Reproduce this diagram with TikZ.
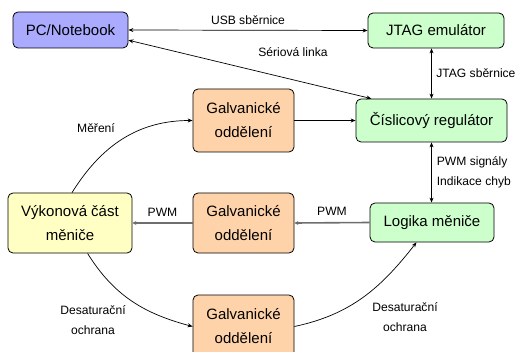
\documentclass[tikz,border=0pt]{standalone}
\usepackage{fontspec}
\setmainfont{Liberation Sans}
\usetikzlibrary{arrows.meta}
\definecolor{pcblue}{HTML}{AAAAFF}
\definecolor{boxgreen}{HTML}{CCFFCC}
\definecolor{boxorange}{HTML}{FFD3AA}
\definecolor{boxyellow}{HTML}{FFFFC4}
\definecolor{pwmgray}{HTML}{6E6E6E}
\tikzset{
  block/.style={draw=black, line width=0.8pt, rounded corners=5pt, align=center,
    inner sep=0pt, font=\fontsize{15}{24}\selectfont},
  pcbox/.style={block, fill=pcblue, minimum width=115pt, minimum height=36pt},
  greenbox/.style={block, fill=boxgreen},
  galvbox/.style={block, fill=boxorange, minimum width=101pt, minimum height=63pt},
  powerbox/.style={block, fill=boxyellow, minimum width=124pt, minimum height=60pt},
  link/.style={line width=0.7pt, -{Stealth[length=5pt,width=4pt]}},
  bilink/.style={line width=0.7pt, {Stealth[length=5pt,width=4pt]}-{Stealth[length=5pt,width=4pt]}},
  pwmlink/.style={draw=pwmgray, line width=1.6pt, -{Stealth[length=4pt,width=4pt]}},
  lbl/.style={font=\fontsize{12.1}{20}\selectfont, inner sep=0pt, align=center},
}
\begin{document}
\begin{tikzpicture}[x=1pt, y=-1pt]
\useasboundingbox (0,0) rectangle (518,352);

% blocks
\node[pcbox] (pc) at (70.5,30) {PC/Notebook};
\node[greenbox, minimum width=136pt, minimum height=35pt] (jtag) at (436,30.5) {JTAG emulátor};
\node[greenbox, minimum width=151pt, minimum height=43pt] (reg) at (431.5,120.5) {Číslicový regulátor};
\node[greenbox, minimum width=124pt, minimum height=39pt] (logic) at (432,222.5) {Logika měniče};
\node[galvbox] (g1) at (243.5,120.5) {Galvanické\\oddělení};
\node[galvbox, minimum height=60pt] (g2) at (243.5,223) {Galvanické\\oddělení};
\node[galvbox] (g3) at (243.5,326.5) {Galvanické\\oddělení};
\node[powerbox] (vyk) at (70,223) {Výkonová část\\měniče};

% communication links
\draw[bilink] (pc.east) -- node[lbl, above=5pt] (usblbl) {USB sběrnice} (jtag.west);
\draw[bilink] (pc.-10) -- (reg.160);
\node[lbl] (serlbl) at (293,52) {Sériová linka};
\draw[bilink] (reg.north) -- node[lbl, right=4.5pt] (jtaglbl) {JTAG sběrnice} (reg.north |- jtag.south);
\draw[link] (g1.east) -- (reg.west);
\draw[bilink] (reg.south) -- node[lbl, right=5pt, align=left] (sigl) {PWM signály\\Indikace chyb} (reg.south |- logic.north);

% PWM path
\draw[pwmlink] (logic.west) -- node[lbl, above=6pt] (pwm1) {PWM} (g2.east);
\draw[pwmlink] (g2.west) -- node[lbl, above=6pt] (pwm2) {PWM} (vyk.east);

% measurement and desaturation feedback
\coordinate (mstart) at ([xshift=2pt]vyk.north);
\draw[link] (mstart) to[out=58, in=180] (g1.west);
\node[lbl] (merlbl) at (96,128) {Měření};
\draw[link] (vyk.-60) to[out=-58, in=165] (g3.west);
\node[lbl] (des1) at (93,320) {Desaturační\\ochrana};
\draw[link] (g3.east) to[out=12, in=-128] (logic.-128);
\node[lbl] (des2) at (405,317) {Desaturační\\ochrana};
\end{tikzpicture}
\end{document}
